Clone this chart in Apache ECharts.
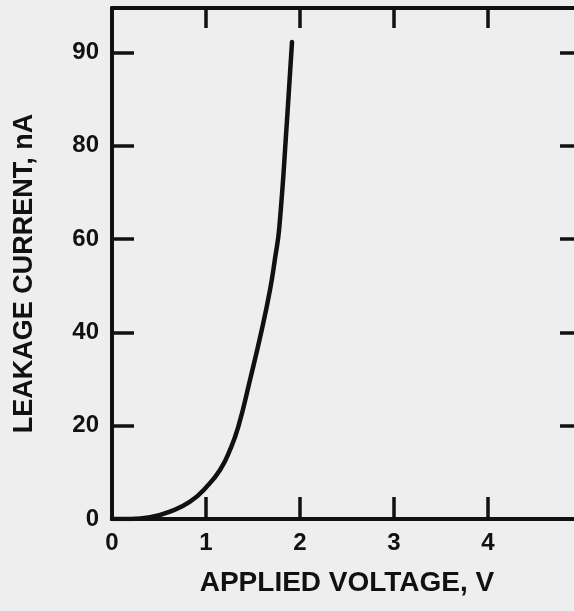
<!DOCTYPE html>
<html>
<head>
<meta charset="utf-8">
<script src="https://cdn.jsdelivr.net/npm/echarts@6/dist/echarts.min.js"></script>
<style>
html,body{margin:0;padding:0;background:#eeeeee;}
#c{width:574px;height:611px;}
</style>
</head>
<body>
<div id="c"></div>
<script>
// Data
var voltage = [0, 0.2, 0.404, 0.617, 0.83, 1.007, 1.149, 1.255, 1.344, 1.468, 1.593, 1.681, 1.734, 1.780, 1.862, 1.915];
var current = [0, 0, 0.36, 1.56, 3.7, 6.9, 10.5, 14.8, 19.8, 29.8, 40.5, 49.1, 55.8, 62.5, 85.5, 102.2];
var xTickValues = [0, 1, 2, 3, 4];
var xTickLabels = ['0', '1', '2', '3', '4'];
var yTickValues = [0, 20, 40, 60, 80, 100];
var yTickLabels = ['0', '20', '40', '60', '80', '90'];
var xTitle = 'APPLIED VOLTAGE, V';
var yTitle = 'LEAKAGE CURRENT, nA';

var pts = voltage.map(function (v, i) { return [v, current[i]]; });
var ink = '#111111';
var font = 'Liberation Sans, Arial, Helvetica, sans-serif';

function xFmt(v) {
  var i = xTickValues.indexOf(Math.round(v));
  return (i >= 0 && Math.abs(v - Math.round(v)) < 1e-6) ? xTickLabels[i] : '';
}
function yFmt(v) {
  var i = yTickValues.indexOf(Math.round(v));
  return (i >= 0 && Math.abs(v - Math.round(v)) < 1e-6) ? yTickLabels[i] : '';
}

var chart = echarts.init(document.getElementById('c'), null, {renderer: 'canvas'});
chart.setOption({
  backgroundColor: '#eeeeee',
  animation: false,
  grid: {left: 112, top: 8, width: 470, height: 511, containLabel: false, outerBoundsMode: 'none'},
  xAxis: [{
    type: 'value', min: 0, max: 5, interval: 1, position: 'bottom',
    axisLine: {show: true, onZero: false, lineStyle: {color: ink, width: 4}},
    axisTick: {show: true, inside: true, length: 22, customValues: xTickValues, lineStyle: {color: ink, width: 3.5}},
    splitLine: {show: false},
    axisLabel: {
      margin: 12, color: ink, fontSize: 24, fontWeight: 'bold', fontFamily: font,
      customValues: xTickValues, formatter: xFmt
    },
    name: xTitle, nameLocation: 'middle', nameGap: 50,
    nameTextStyle: {color: ink, fontSize: 28, fontWeight: 'bold', fontFamily: font}
  }, {
    type: 'value', min: 0, max: 5, interval: 1, position: 'top',
    axisLine: {show: true, onZero: false, lineStyle: {color: ink, width: 4}},
    axisTick: {show: true, inside: true, length: 20, customValues: xTickValues, lineStyle: {color: ink, width: 3.5}},
    axisLabel: {show: false}, splitLine: {show: false}
  }],
  yAxis: [{
    type: 'value', min: 0, max: 109.5, interval: 20, position: 'left',
    axisLine: {show: true, onZero: false, lineStyle: {color: ink, width: 4}},
    axisTick: {show: true, inside: true, length: 22, customValues: yTickValues, lineStyle: {color: ink, width: 3.5}},
    splitLine: {show: false},
    axisLabel: {
      margin: 13, color: ink, fontSize: 24, fontWeight: 'bold', fontFamily: font,
      customValues: yTickValues, formatter: yFmt
    },
    name: yTitle, nameLocation: 'middle', nameGap: 74, nameRotate: 90,
    nameTextStyle: {color: ink, fontSize: 27, fontWeight: 'bold', fontFamily: font, padding: [0, 20, 0, 0]}
  }, {
    type: 'value', min: 0, max: 109.5, interval: 20, position: 'right',
    axisLine: {show: true, onZero: false, lineStyle: {color: ink, width: 4}},
    axisTick: {show: true, inside: true, length: 22, customValues: yTickValues, lineStyle: {color: ink, width: 3.5}},
    axisLabel: {show: false}, splitLine: {show: false}
  }],
  series: [{
    type: 'line', xAxisIndex: 0, yAxisIndex: 0, data: pts,
    smooth: true, showSymbol: false, symbol: 'none',
    lineStyle: {color: ink, width: 4.5, cap: 'round'}
  }]
});
</script>
</body>
</html>
